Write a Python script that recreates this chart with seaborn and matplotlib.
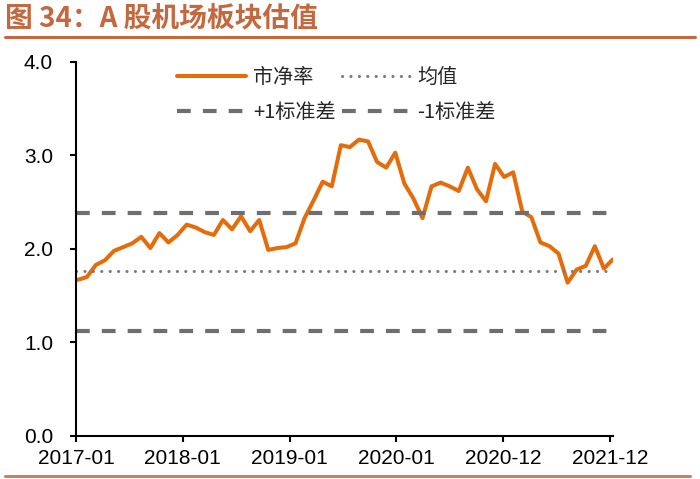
import numpy as np
import pandas as pd
import matplotlib
matplotlib.use("Agg")
import matplotlib.pyplot as plt
import matplotlib.dates as mdates
from matplotlib.lines import Line2D
import seaborn as sns

# data
pb = [1.67, 1.70, 1.83, 1.88, 1.98, 2.02, 2.06, 2.13, 2.01, 2.17, 2.07, 2.15, 2.26,
      2.23, 2.18, 2.15, 2.31, 2.21, 2.35, 2.19, 2.31, 1.99, 2.01, 2.02, 2.06,
      2.33, 2.52, 2.72, 2.67, 3.11, 3.09, 3.17, 3.15, 2.93, 2.87, 3.03,
      2.70, 2.54, 2.33, 2.67, 2.71, 2.67, 2.62, 2.87, 2.64, 2.51, 2.91, 2.77, 2.82,
      2.40, 2.34, 2.07, 2.03, 1.95, 1.64, 1.78, 1.82, 2.03, 1.79, 1.89]
dates = pd.date_range("2017-01-07", periods=len(pb), freq="31D")
mean_val = 1.76
plus_std = 2.39
minus_std = 1.12
tick_dates = pd.date_range("2017-01-01", periods=6, freq="365D")
y_ticks = [0.0, 1.0, 2.0, 3.0, 4.0]

df = pd.DataFrame({"date": dates, "pb": pb})

sns.set_theme(style="ticks")
plt.rcParams["font.family"] = ["Liberation Sans", "Noto Sans CJK SC", "DejaVu Sans"]

orange = "#E46C0A"
grey = "#6E6E6E"
brown = "#C4693F"

fig = plt.figure(figsize=(7, 4.79), dpi=100)
ax = fig.add_axes([0.1086, 0.0898, 0.7671, 0.7808])

sns.lineplot(data=df, x="date", y="pb", ax=ax, color=orange, linewidth=2.9, label="市净率")
ax.axhline(mean_val, color="#7A7A7A", linewidth=2.2, linestyle=(0, (0.05, 2.7)),
           dash_capstyle="round", label="均值")
ax.axhline(plus_std, color=grey, linewidth=3.0, linestyle=(0, (3.3, 2.9)), label="+1标准差")
ax.axhline(minus_std, color=grey, linewidth=3.0, linestyle=(0, (3.3, 2.9)), label="-1标准差")

ax.set_ylim(0, 4)
ax.set_yticks(y_ticks)
ax.set_yticklabels([f"{v:.1f}" for v in y_ticks])
ax.set_xlim(pd.Timestamp("2017-01-01"), pd.Timestamp("2022-01-10"))
ax.set_xticks(tick_dates)
ax.xaxis.set_major_formatter(mdates.DateFormatter("%Y-%m"))
ax.set_xlabel("")
ax.set_ylabel("")

sns.despine(ax=ax)
for s in ["left", "bottom"]:
    ax.spines[s].set_color("black")
    ax.spines[s].set_linewidth(1.5)
ax.tick_params(axis="both", direction="out", length=4.5, width=1.5, color="black",
               labelsize=15, labelcolor="black")
ax.tick_params(axis="y", pad=12)
ax.tick_params(axis="x", pad=5)

h, l = ax.get_legend_handles_labels()
order = [0, 2, 1, 3]
leg = ax.legend([h[i] for i in order], [l[i] for i in order], ncol=2, frameon=False,
                loc="upper left", bbox_to_anchor=(0.155, 1.035),
                handlelength=3.4, handletextpad=0.35, columnspacing=0.3, labelspacing=0.7,
                prop={"family": ["Noto Sans CJK SC"], "size": 14.5})

# title and rules
fig.text(0.007, 0.962, "图 34：A 股机场板块估值", color=brown, fontsize=20, fontweight="bold",
         family=["Noto Sans CJK SC"], va="center", ha="left")
fig.add_artist(Line2D([0.007, 0.993], [0.923, 0.923], color=brown, linewidth=2.2))
fig.add_artist(Line2D([0.007, 0.985], [0.006, 0.006], color="#C98063", linewidth=2.2))

fig.savefig("out.png", dpi=100)
